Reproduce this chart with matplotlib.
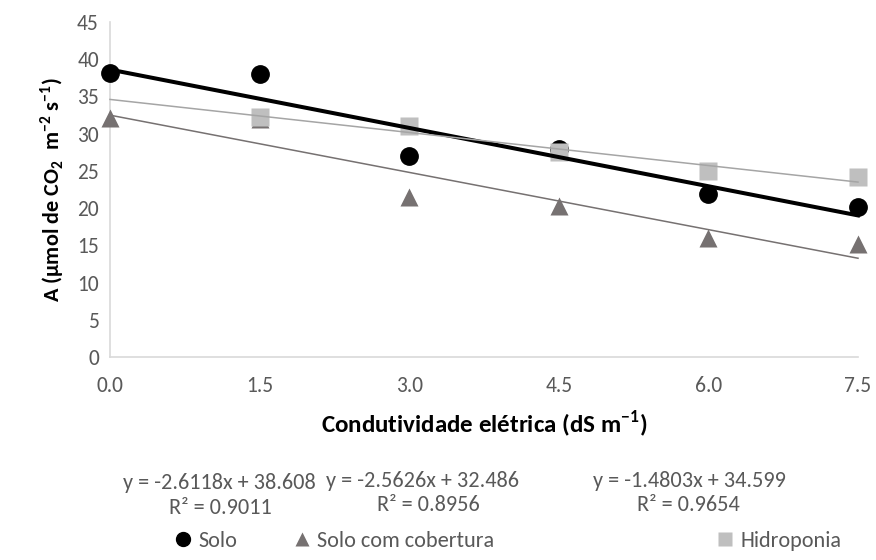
import numpy as np
import matplotlib
matplotlib.use("Agg")
import matplotlib.pyplot as plt

plt.rcParams['font.family'] = ['Carlito', 'DejaVu Sans']
plt.rcParams['mathtext.fontset'] = 'custom'
plt.rcParams['mathtext.bf'] = 'Carlito:bold'
plt.rcParams['mathtext.rm'] = 'Carlito'

# electrical conductivity levels (dS m-1)
ce = [0.0, 1.5, 3.0, 4.5, 6.0, 7.5]
# net photosynthesis A (umol CO2 m-2 s-1)
solo = [38.1, 38.0, 27.0, 28.0, 21.9, 20.2]
solo_cob = [32.1, 32.0, 21.5, 20.3, 16.0, 15.2]
hidro = [np.nan, 32.3, 31.0, 27.5, 25.0, 24.2]
# fitted trendlines (slope, intercept, R2)
fit_solo = (-2.6118, 38.608, 0.9011)
fit_cob = (-2.5626, 32.486, 0.8956)
fit_hidro = (-1.4803, 34.599, 0.9654)

W, H = 876, 560
fig = plt.figure(figsize=(W / 100, H / 100), dpi=100)
ax = fig.add_axes([110 / W, 1 - 357 / H, 748 / W, 335 / H])

x = np.array(ce)
h1, = ax.plot(ce, solo, 'o', color='black', ms=12.5, clip_on=False, zorder=3, label='Solo')
h2, = ax.plot(ce, solo_cob, '^', color='#767171', ms=13, mec='none', clip_on=False, zorder=3,
              label='Solo com cobertura')
h3, = ax.plot(ce, hidro, 's', color='#BFBFBF', ms=13, mec='none', clip_on=False, zorder=3,
              label='Hidroponia')

ax.plot(x, fit_solo[0] * x + fit_solo[1], color='black', lw=2.9, zorder=4, clip_on=False)
ax.plot(x, fit_cob[0] * x + fit_cob[1], color='#767171', lw=1.1, zorder=4, clip_on=False)
ax.plot(x, fit_hidro[0] * x + fit_hidro[1], color='#A5A5A5', lw=1.1, zorder=4, clip_on=False)

ax.set_xlim(0, 7.5)
ax.set_ylim(0, 45)
ax.set_xticks(ce)
ax.set_xticklabels([f"{v:.1f}" for v in ce])
ax.set_yticks(range(0, 46, 5))
ax.tick_params(length=0, labelsize=15.5, labelcolor='#595959')
ax.tick_params(axis='x', pad=14)
ax.tick_params(axis='y', pad=8)
for s in ['top', 'right']:
    ax.spines[s].set_visible(False)
for s in ['left', 'bottom']:
    ax.spines[s].set_color('#D9D9D9')
    ax.spines[s].set_linewidth(1.2)

ax.set_xlabel(r'Condutividade elétrica (dS m$^\mathbf{-1}$)', fontsize=18,
              fontweight='bold', labelpad=9)
ax.set_ylabel(r'A (µmol de CO$_\mathbf{2}$  m$^\mathbf{-2}$ s$^\mathbf{-1}$)', fontsize=16,
              fontweight='bold', labelpad=7)

# trendline equations below the plot
for (m, b, r2), eq_xy, r2_xy in [(fit_solo, (219, 483), (220, 508)),
                                  (fit_cob, (423, 481), (428, 505)),
                                  (fit_hidro, (689, 481), (688, 505))]:
    fig.text(eq_xy[0] / W, 1 - eq_xy[1] / H, f"y = {m:.4f}x + {b:.3f}", ha='center', va='center',
             fontsize=16, color='#595959')
    fig.text(r2_xy[0] / W, 1 - r2_xy[1] / H, f"R² = {r2:.4f}", ha='center', va='center',
             fontsize=16, color='#595959')

# legend entries are spaced unevenly, one small legend per series
for h, x0 in [(h1, 175), (h2, 294), (h3, 717)]:
    fig.legend(handles=[h], loc='center left', bbox_to_anchor=(x0 / W, 1 - 541 / H),
               frameon=False, fontsize=16, labelcolor='#595959', handlelength=0.75,
               handletextpad=0.3, borderpad=0, borderaxespad=0, markerscale=0.8)

fig.savefig("out.png", dpi=100)
